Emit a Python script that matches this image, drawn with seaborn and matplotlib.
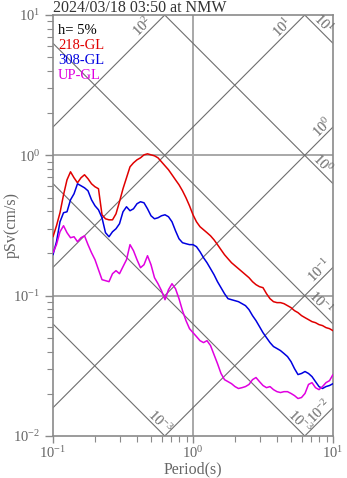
import numpy as np
import pandas as pd
import matplotlib
matplotlib.use("Agg")
import matplotlib.pyplot as plt
import seaborn as sns
from matplotlib.ticker import LogLocator, NullFormatter

# Natural period (s) of the 5%-damped oscillators
period = [0.1000, 0.1059, 0.1122, 0.1189, 0.1259, 0.1334, 0.1413, 0.1496, 0.1585, 0.1679,
          0.1778, 0.1884, 0.1995, 0.2113, 0.2239, 0.2371, 0.2512, 0.2661, 0.2818, 0.2985,
          0.3162, 0.3350, 0.3548, 0.3758, 0.3981, 0.4217, 0.4467, 0.4732, 0.5012, 0.5309,
          0.5623, 0.5957, 0.6310, 0.6683, 0.7079, 0.7499, 0.7943, 0.8414, 0.8913, 0.9441,
          1.000, 1.059, 1.122, 1.189, 1.259, 1.334, 1.413, 1.496, 1.585, 1.679,
          1.778, 1.884, 1.995, 2.113, 2.239, 2.371, 2.512, 2.661, 2.818, 2.985,
          3.162, 3.350, 3.548, 3.758, 3.981, 4.217, 4.467, 4.732, 5.012, 5.309,
          5.623, 5.957, 6.310, 6.683, 7.079, 7.499, 7.943, 8.414, 8.913, 9.441, 10.00]

# Pseudo-velocity response (cm/s) per component
sv_218 = [0.263, 0.315, 0.390, 0.523, 0.669, 0.763, 0.692, 0.637, 0.692, 0.727,
          0.681, 0.627, 0.597, 0.578, 0.377, 0.353, 0.347, 0.347, 0.383, 0.467,
          0.578, 0.692, 0.828, 0.884, 0.929, 0.960, 1.008, 1.025, 1.008, 0.992,
          0.960, 0.899, 0.842, 0.789, 0.727, 0.669, 0.617, 0.559, 0.498, 0.437,
          0.377, 0.336, 0.310, 0.295, 0.281, 0.267, 0.250, 0.231, 0.2125, 0.1958,
          0.1833, 0.1717, 0.1635, 0.1557, 0.1482, 0.1411, 0.1343, 0.1258, 0.1198, 0.1159,
          0.1140, 0.1033, 0.0952, 0.0906, 0.0892, 0.0892, 0.0877, 0.0849, 0.0822, 0.0782,
          0.0757, 0.0721, 0.0697, 0.0675, 0.0653, 0.0642, 0.0622, 0.0612, 0.0592, 0.0582, 0.0563]

sv_308 = [0.1958, 0.2423, 0.336, 0.390, 0.396, 0.482, 0.532, 0.627, 0.607, 0.587,
          0.559, 0.482, 0.437, 0.409, 0.359, 0.281, 0.263, 0.2854, 0.2998, 0.3255,
          0.396, 0.430, 0.403, 0.416, 0.452, 0.467, 0.459, 0.416, 0.371, 0.353,
          0.359, 0.371, 0.377, 0.365, 0.336, 0.290, 0.2544, 0.2384, 0.2345, 0.231,
          0.231, 0.2233, 0.2057, 0.1864, 0.1717, 0.1557, 0.1411, 0.1258, 0.1140, 0.1033,
          0.0952, 0.0936, 0.0921, 0.0906, 0.0877, 0.0849, 0.0795, 0.0721, 0.0664, 0.0602,
          0.0545, 0.0502, 0.0463, 0.0434, 0.0420, 0.0406, 0.0387, 0.0368, 0.0339, 0.0302,
          0.0274, 0.0279, 0.0288, 0.0279, 0.0265, 0.0244, 0.0225, 0.0218, 0.0225, 0.0229, 0.0236]

sv_up = [0.2023, 0.231, 0.2854, 0.315, 0.281, 0.2587, 0.263, 0.2423, 0.2587, 0.267,
         0.231, 0.2023, 0.1804, 0.1531, 0.1300, 0.1279, 0.1258, 0.1434, 0.1507, 0.1434,
         0.1609, 0.1804, 0.231, 0.2091, 0.1804, 0.1582, 0.1662, 0.1926, 0.1662, 0.1343,
         0.1217, 0.1085, 0.0936, 0.1103, 0.1217, 0.1121, 0.0952, 0.0782, 0.0664, 0.0582,
         0.0545, 0.0511, 0.0478, 0.0463, 0.0478, 0.0441, 0.0380, 0.0328, 0.0279, 0.0252,
         0.0244, 0.0236, 0.0225, 0.0218, 0.0221, 0.0225, 0.0233, 0.0252, 0.0261, 0.0244,
         0.0229, 0.0221, 0.0225, 0.0214, 0.0207, 0.0204, 0.0207, 0.0207, 0.0201, 0.0194,
         0.0185, 0.0188, 0.0201, 0.0233, 0.0240, 0.0221, 0.0214, 0.0225, 0.0240, 0.0248, 0.0274]

components = ["218-GL", "308-GL", "UP-GL"]
colors = ["#e00000", "#0000e0", "#e000e0"]

title = "2024/03/18 03:50 at NMW"
damping_text = "h= 5%"

# Tripartite guide lines: displacement (cm) and acceleration (cm/s^2)
disp_levels = [1e-3, 1e-2, 1e-1, 1e0, 1e1]
disp_labels = [r"$10^{-3}$", r"$10^{-3}$", r"$10^{-1}$", r"$10^{0}$", r"$10^{1}$"]
disp_label_periods = [0.581, 5.81, 8.2, 8.48, 8.48]
acc_levels = [1e-2, 1e-1, 1e0, 1e1, 1e2]
acc_labels = [r"$10^{-2}$", r"$10^{-1}$", r"$10^{0}$", r"$10^{1}$", r"$10^{2}$"]
acc_label_periods = [8.07, 8.07, 8.48, 4.39, 0.44]

sns.set_theme(style="white")
plt.rcParams["font.family"] = ["Liberation Serif", "DejaVu Serif"]
plt.rcParams["mathtext.fontset"] = "custom"
plt.rcParams["mathtext.rm"] = "Liberation Serif"
plt.rcParams["mathtext.it"] = "Liberation Serif:italic"
plt.rcParams["mathtext.bf"] = "Liberation Serif:bold"

W, H = 347, 478
fig = plt.figure(figsize=(W / 100, H / 100), dpi=100)
ax = fig.add_axes([53 / W, 42 / H, 280 / W, 421 / H])

T_min, T_max = 0.1, 10.0
S_min, S_max = 0.01, 10.0
line_gray = "#6e6e6e"
text_gray = "#666666"

# Reference grid lines
ax.axvline(1.0, color="#a8a8a8", lw=1.4, zorder=1)
for h in (1.0, 0.1):
    ax.axhline(h, color="#a8a8a8", lw=1.4, zorder=1)

T_ends = np.array([T_min, T_max])
for d, lab, tl in zip(disp_levels, disp_labels, disp_label_periods):
    ax.plot(T_ends, 2 * np.pi * d / T_ends, color=line_gray, lw=0.8, zorder=2)
    ax.annotate(lab, xy=(tl, 2 * np.pi * d / tl), xytext=(0, 7), textcoords="offset points",
                rotation=-45, ha="center", va="center", rotation_mode="anchor",
                fontsize=10.5, color=text_gray, zorder=3)
for a, lab, tl in zip(acc_levels, acc_labels, acc_label_periods):
    ax.plot(T_ends, a * T_ends / (2 * np.pi), color=line_gray, lw=0.8, zorder=2)
    ax.annotate(lab, xy=(tl, a * tl / (2 * np.pi)), xytext=(0, 7), textcoords="offset points",
                rotation=45, ha="center", va="center", rotation_mode="anchor",
                fontsize=10.5, color=text_gray, zorder=3)

df = pd.DataFrame({
    "Period": period * 3,
    "pSv": sv_218 + sv_308 + sv_up,
    "Component": [c for c in components for _ in period],
})
sns.lineplot(data=df, x="Period", y="pSv", hue="Component", hue_order=components,
             palette=colors, sort=False, estimator=None, legend=False, lw=1.1, ax=ax, zorder=4)

ax.set_xscale("log")
ax.set_yscale("log")
ax.set_xlim(T_min, T_max)
ax.set_ylim(S_min, S_max)

for s in ax.spines.values():
    s.set_color("#8a8a8a")
    s.set_linewidth(1.2)

ax.xaxis.set_major_locator(LogLocator(base=10))
ax.yaxis.set_major_locator(LogLocator(base=10))
ax.xaxis.set_minor_locator(LogLocator(base=10, subs=np.arange(2, 10)))
ax.yaxis.set_minor_locator(LogLocator(base=10, subs=np.arange(2, 10)))
ax.xaxis.set_minor_formatter(NullFormatter())
ax.yaxis.set_minor_formatter(NullFormatter())
ax.tick_params(which="both", direction="out", color="#8a8a8a", labelcolor=text_gray,
               labelsize=10.5, bottom=True, left=True, top=False, right=False)
ax.tick_params(which="major", length=6, width=1.0, pad=3)
ax.tick_params(which="minor", length=4, width=0.8)
ax.tick_params(axis="x", which="major", length=5, pad=1.5)

ax.set_xlabel("Period(s)", fontsize=11.5, color=text_gray)
ax.set_ylabel("pSv(cm/s)", fontsize=11.5, color=text_gray)
ax.xaxis.set_label_coords(0.5, -0.08)
ax.yaxis.set_label_coords(-0.146, 0.5)
ax.xaxis.label.set_va("center")
ax.yaxis.label.set_va("center")

ax.text(0.018, 0.955, damping_text, transform=ax.transAxes, fontsize=10.5, color="black",
        va="baseline", ha="left", zorder=5)
for i, (c, col) in enumerate(zip(components, colors)):
    ax.text(0.018, 0.919 - 0.0356 * i, c, transform=ax.transAxes, fontsize=10.5, color=col,
            va="baseline", ha="left", zorder=5)

fig.text(53 / W, 1 - 12 / H, title, fontsize=11.5, color="#333333", ha="left", va="baseline")

fig.savefig("out.png", dpi=100)
